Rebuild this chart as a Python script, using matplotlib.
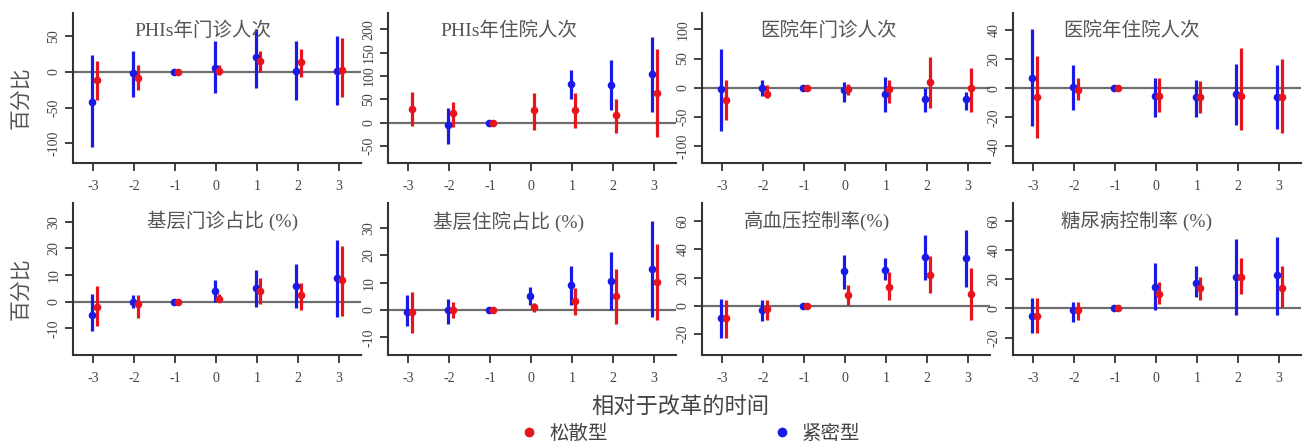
import numpy as np
import matplotlib
matplotlib.use("Agg")
import matplotlib.pyplot as plt
from matplotlib.lines import Line2D

plt.rcParams['font.family'] = ['Liberation Serif', 'Noto Sans CJK SC', 'DejaVu Sans']
plt.rcParams['axes.unicode_minus'] = False

# relative time to the reform
periods = [-3, -2, -1, 0, 1, 2, 3]
nan = np.nan

titles = ['PHIs年门诊人次', 'PHIs年住院人次', '医院年门诊人次', '医院年住院人次',
          '基层门诊占比 (%)', '基层住院占比 (%)', '高血压控制率(%)', '糖尿病控制率 (%)']
yticks_list = [[-100, -50, 0, 50], [-50, 0, 50, 100, 150, 200], [-100, -50, 0, 50, 100],
               [-40, -20, 0, 20, 40], [-10, 0, 10, 20, 30], [-10, 0, 10, 20, 30],
               [-20, 0, 20, 40, 60], [-20, 0, 20, 40, 60]]
ylims = [(-128, 83), (-86, 235), (-129, 128), (-51.5, 52),
         (-20, 37), (-16.4, 39), (-35, 73), (-32, 72.6)]

# 紧密型 (blue): estimate, lower, upper
tight_est = [
    [-42, -2, 0, 5, 21, 2, 1],
    [nan, -5, 0, nan, 83, 81, 104],
    [-3, -1, 0, -4, -10, -20, -20],
    [7, 1, 0, -5, -6, -4, -6],
    [-5, 0, 0, 4, 5, 6, 9],
    [-0.6, 0, 0, 5, 9, 10.7, 15],
    [-9, -3, 0, 25, 25.5, 34.5, 34],
    [-5, -1, 0, 15, 17.7, 22, 23],
]
tight_lo = [
    [-105, -35, 0, -29, -23, -39, -46],
    [nan, -46, 0, nan, 50, 27, 24],
    [-75, -15, 0, -24, -41, -41, -38],
    [-26, -15, 0, -20, -20, -25, -28],
    [-11, -2.5, 0, 0, -2, -2.5, -5.6],
    [-6, -5, 0, 2, 2, 0, -2.4],
    [-23, -11, 0, 12, 18, 18, 13.6],
    [-17, -9, 0, -1, 8, -4.6, -4.6],
]
tight_hi = [
    [24, 29, 0, 43, 61, 43, 51],
    [nan, 31, 0, nan, 113, 134, 184],
    [67, 14, 0, 10, 19, -1, -7],
    [41, 16, 0, 7, 6, 17, 16],
    [3, 2.5, 0, 8, 12, 14, 23],
    [5.5, 4, 0, 8.5, 16, 21, 32.5],
    [5, 4, 0, 36, 34, 50, 54],
    [7, 4.6, 0, 31, 29, 48, 49],
]

# 松散型 (red): estimate, lower, upper
loose_est = [
    [-11, -8, 0, 1, 15, 14, 3],
    [29, 20, 0, 27, 27, 16, 63],
    [-21, -10, 0, -3, -3, 10, -1],
    [-6, -1, 0, -5, -6, -5, -6],
    [-2, -1, 0, 1, 4, 2.5, 8],
    [-0.6, 0, 0, 1.2, 3.3, 5, 10.3],
    [-9, -2, 0, 7.6, 13.6, 22, 8.3],
    [-5, -1, 0, 10, 14, 22, 14],
]
loose_lo = [
    [-39, -25, 0, -4, 0, -7, -35],
    [-7, -9, 0, -16, -12, -21, -30],
    [-55, -18, 0, -13, -27, -35, -41],
    [-34, -8, 0, -16, -17, -29, -31],
    [-9, -6, 0, 0, -1, -3, -5.4],
    [-8.5, -3, 0, -0.6, -2, -5, -3.6],
    [-23, -10, 0, 0.5, 4, 9, -10],
    [-17, -8, 0, 3.4, 6, 10, 1],
]
loose_hi = [
    [15, 10, 0, 10, 29, 33, 48],
    [66, 45, 0, 63, 63, 50, 159],
    [13, 5, 0, 7, 13, 53, 33],
    [22, 7, 0, 7, 5, 28, 20],
    [6, 2.5, 0, 3, 9, 7, 21],
    [6.7, 3, 0, 2.4, 8, 15, 24],
    [4, 4, 0, 15, 24, 35, 27],
    [7, 4.6, 0, 18, 22, 34.5, 29],
]

title_xpos = [0.45, 0.42, 0.44, 0.41, 0.52, 0.42, 0.40, 0.43]

W, H = 1302, 448
fig = plt.figure(figsize=(W / 100, H / 100), dpi=100)

lefts = [73, 388, 702, 1013]
width = 288
rows = [(13, 163), (203, 355)]  # top, bottom in pixels

text_gray = '#555555'
axis_col = '#333333'
x = np.array(periods, dtype=float)

for i in range(8):
    r, c = divmod(i, 4)
    top, bot = rows[r]
    ax = fig.add_axes([lefts[c] / W, 1 - bot / H, width / W, (bot - top) / H])

    ax.axhline(0, color='#6e6e6e', lw=1.6, zorder=1)

    for est, lo, hi, col, dx in [(tight_est[i], tight_lo[i], tight_hi[i], '#1a1ae6', -0.03),
                                 (loose_est[i], loose_lo[i], loose_hi[i], '#e8141c', 0.08)]:
        est = np.array(est, dtype=float)
        lo = np.array(lo, dtype=float)
        hi = np.array(hi, dtype=float)
        ax.vlines(x + dx, lo, hi, color=col, lw=2.3, zorder=2)
        ax.plot(x + dx, est, 'o', color=col, ms=4.5, zorder=3)

    ax.set_xlim(-3.5, 3.55)
    ax.set_ylim(*ylims[i])
    ax.set_xticks(periods)
    ax.set_xticklabels([str(p) for p in periods])
    ax.set_yticks(yticks_list[i])
    ax.set_yticklabels([str(t) for t in yticks_list[i]], rotation=90, va='center')
    ax.tick_params(axis='both', direction='out', length=6, width=1.3,
                   colors=axis_col, labelsize=10, labelcolor='#444444')
    ax.tick_params(axis='x', pad=6)
    ax.tick_params(axis='y', pad=3)

    for side in ['top', 'right']:
        ax.spines[side].set_visible(False)
    for side in ['left', 'bottom']:
        ax.spines[side].set_color(axis_col)
        ax.spines[side].set_linewidth(1.5)

    ax.text(title_xpos[i], 0.88, titles[i], transform=ax.transAxes,
            ha='center', va='center', fontsize=14, color=text_gray)

    if c == 0:
        fig.text(22 / W, 1 - ((top + bot) / 2 + 10) / H, '百分比', rotation=90,
                 ha='center', va='center', fontsize=15, color=text_gray)

fig.text(680 / W, 1 - 408 / H, '相对于改革的时间', ha='center', va='center',
         fontsize=16, color='#444444')

handles = [Line2D([], [], ls='none', marker='o', color='#e8141c', ms=6),
           Line2D([], [], ls='none', marker='o', color='#1a1ae6', ms=6)]
fig.legend(handles, ['松散型', '紧密型'], loc='center', bbox_to_anchor=(690 / W, 1 - 434 / H),
           ncol=2, frameon=False, fontsize=14, handlelength=1, handletextpad=0.5,
           columnspacing=8.5, labelcolor='#444444', borderpad=0.2)

fig.savefig('out.png', dpi=100)
